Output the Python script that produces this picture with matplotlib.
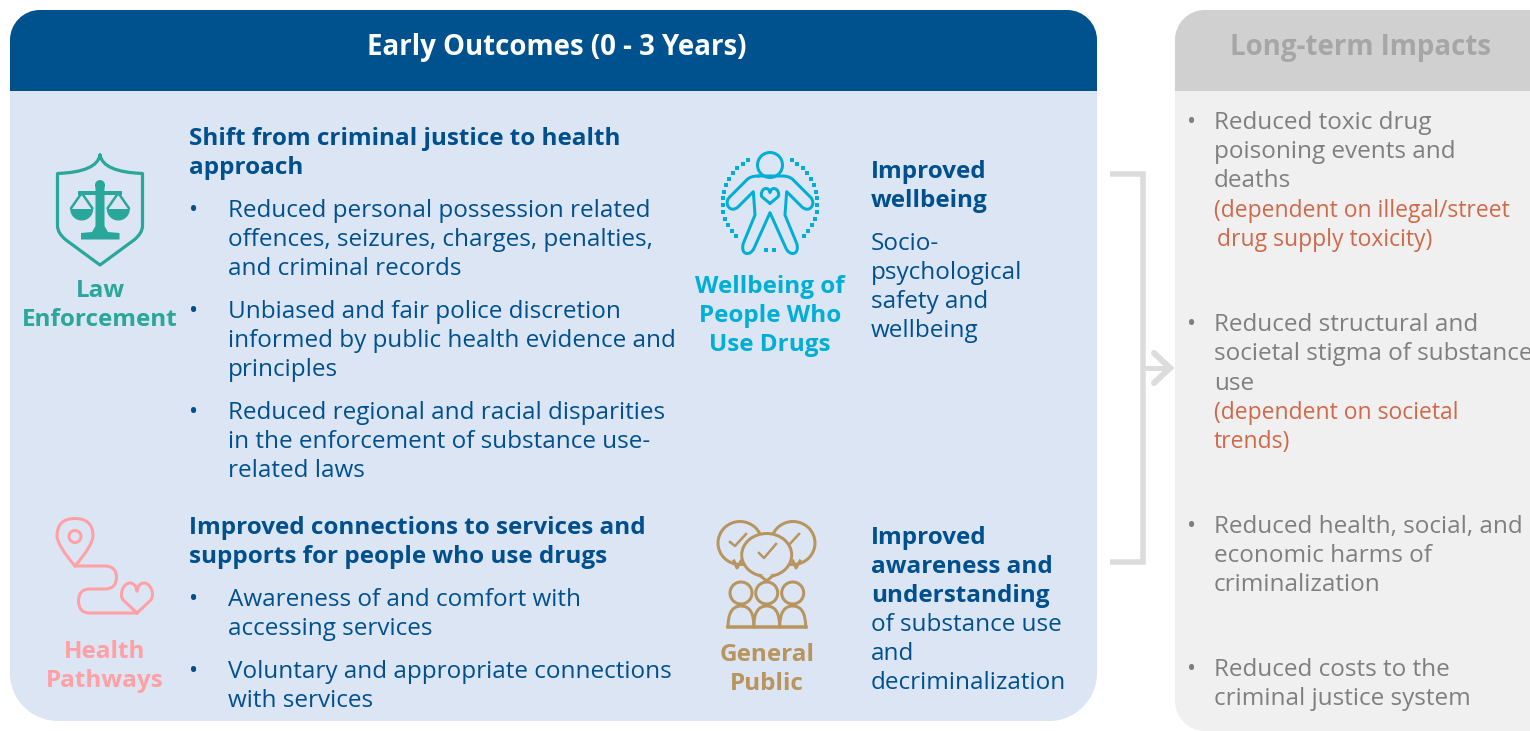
import numpy as np
import matplotlib
matplotlib.use("Agg")
import matplotlib.pyplot as plt
from matplotlib.path import Path
from matplotlib.patches import PathPatch, Circle, Ellipse, Polygon

plt.rcParams['font.family'] = ['Open Sans', 'DejaVu Sans']

NAVY = '#00508f'; HEADER = '#00528f'; PANEL = '#dbe5f3'
TEAL = '#2aa79b'; CYAN = '#00aed6'; PINK = '#ffa0a5'; TAN = '#b8955f'
GREY = '#7f7f7f'; ORANGE = '#d0694a'; LINE = '#dcdcdc'
FS = 17.5

early_title = 'Early Outcomes (0 - 3 Years)'
late_title = 'Long-term Impacts'

left_heads = [(136, 'Shift from criminal justice to health'), (165, 'approach'),
              (525, 'Improved connections to services and'), (554, 'supports for people who use drugs')]
left_lines = [(208, 'Reduced personal possession related'), (237, 'offences, seizures, charges, penalties,'),
              (266, 'and criminal records'), (309, 'Unbiased and fair police discretion'),
              (338, 'informed by public health evidence and'), (367, 'principles'),
              (410, 'Reduced regional and racial disparities'), (439, 'in the enforcement of substance use-'),
              (468, 'related laws'), (597, 'Awareness of and comfort with'),
              (626, 'accessing services'), (669, 'Voluntary and appropriate connections'),
              (698, 'with services')]
left_bullets = [208, 309, 410, 597, 669]

mid_heads = [(169, 'Improved'), (198, 'wellbeing'), (535, 'Improved'),
             (564, 'awareness and'), (593, 'understanding')]
mid_lines = [(241, 'Socio-'), (270, 'psychological'), (299, 'safety and'), (328, 'wellbeing'),
             (622, 'of substance use'), (651, 'and'), (680, 'decriminalization')]

labels = [(100, 288, 'Law', TEAL), (100, 317, 'Enforcement', TEAL),
          (770, 284, 'Wellbeing of', CYAN), (770, 313, 'People Who', CYAN), (770, 342, 'Use Drugs', CYAN),
          (105, 649, 'Health', PINK), (105, 678, 'Pathways', PINK),
          (767, 652, 'General', TAN), (767, 681, 'Public', TAN)]

right_lines = [(120, 'Reduced toxic drug'), (149, 'poisoning events and'), (178, 'deaths'),
               (322, 'Reduced structural and'), (351, 'societal stigma of substance'), (381, 'use'),
               (524, 'Reduced health, social, and'), (553, 'economic harms of'), (582, 'criminalization'),
               (667, 'Reduced costs to the'), (696, 'criminal justice system')]
right_bullets = [120, 322, 524, 667]
right_notes = [(1214, 208, '(dependent on illegal/street'), (1217, 237, 'drug supply toxicity)'),
               (1214, 410, '(dependent on societal'), (1214, 439, 'trends)')]

fig = plt.figure(figsize=(15.30, 7.31), dpi=100, facecolor='white')
ax = fig.add_axes([0, 0, 1, 1])
ax.set_xlim(0, 1530); ax.set_ylim(731, 0); ax.axis('off')


def rrect(x0, y0, x1, y1, rt, rb):
    k = 0.5523
    v = [(x0 + rt, y0), (x1 - rt, y0), (x1 - rt + k * rt, y0), (x1, y0 + rt - k * rt), (x1, y0 + rt),
         (x1, y1 - rb), (x1, y1 - rb + k * rb), (x1 - rb + k * rb, y1), (x1 - rb, y1),
         (x0 + rb, y1), (x0 + rb - k * rb, y1), (x0, y1 - rb + k * rb), (x0, y1 - rb),
         (x0, y0 + rt), (x0, y0 + rt - k * rt), (x0 + rt - k * rt, y0), (x0 + rt, y0), (x0 + rt, y0)]
    c = [Path.MOVETO, Path.LINETO, Path.CURVE4, Path.CURVE4, Path.CURVE4, Path.LINETO,
         Path.CURVE4, Path.CURVE4, Path.CURVE4, Path.LINETO, Path.CURVE4, Path.CURVE4, Path.CURVE4,
         Path.LINETO, Path.CURVE4, Path.CURVE4, Path.CURVE4, Path.CLOSEPOLY]
    return Path(v, c)


def panel(x0, x1, y1, rt, rb, body, head):
    p = PathPatch(rrect(x0, 10, x1, y1, rt, rb), fc=body, ec='none', zorder=1)
    ax.add_patch(p)
    h = ax.fill([x0, x1, x1, x0], [10, 10, 91, 91], color=head, lw=0, zorder=2)[0]
    h.set_clip_path(p)


panel(10, 1097, 721, 30, 48, PANEL, HEADER)
panel(1175, 1570, 731, 30, 30, '#f0f0f0', '#d0d0d0')


def T(x, y, s, color, bold=False, ha='left', size=FS):
    ax.text(x, y + 8.6, s, color=color, fontsize=size, ha=ha, va='baseline',
            fontweight='bold' if bold else 'normal', zorder=5)


T(557, 46.5, early_title, 'white', True, 'center', 19.9)
T(1361, 46.5, late_title, '#a6a6a6', True, 'center', 19.9)
for y, s in left_heads:
    T(189, y, s, NAVY, True)
for y, s in left_lines:
    T(228, y, s, NAVY)
for y in left_bullets:
    T(189, y, '•', NAVY)
for y, s in mid_heads:
    T(871, y, s, NAVY, True)
for y, s in mid_lines:
    T(871, y, s, NAVY)
for x, y, s, c in labels:
    T(x, y, s, c, True, 'center')
for y, s in right_lines:
    T(1214, y, s, GREY)
for y in right_bullets:
    T(1187, y, '•', GREY)
for x, y, s in right_notes:
    T(x, y, s, ORANGE, size=16.45)

# connector
px = 0.72
ax.plot([1110, 1143, 1143, 1110], [174, 174, 562, 562], color=LINE, lw=5.5 * px,
        solid_joinstyle='miter', solid_capstyle='butt', zorder=3)
ax.plot([1143, 1170], [368, 368], color=LINE, lw=5 * px, solid_capstyle='butt', zorder=3)
ax.plot([1154, 1170, 1154], [353, 368, 383], color=LINE, lw=6 * px,
        solid_capstyle='round', solid_joinstyle='miter', zorder=3)


def stroke(verts, codes=None, color=TEAL, lw=3, fc='none', z=4):
    if codes is None:
        codes = [Path.MOVETO] + [Path.LINETO] * (len(verts) - 1)
    ax.add_patch(PathPatch(Path(verts, codes), fc=fc, ec=color, lw=lw * px, zorder=z,
                           joinstyle='round', capstyle='round'))


M, L, C3, C4 = Path.MOVETO, Path.LINETO, Path.CURVE3, Path.CURVE4


def heart(cx, cy, w, h, color, lw=3):
    v = [(cx, cy + h), (cx - w * .85, cy + h * .15),
         (cx - w * 1.15, cy - h * .2), (cx - w * .85, cy - h), (cx - w * .45, cy - h),
         (cx - w * .2, cy - h), (cx - w * .05, cy - h * .8), (cx, cy - h * .45),
         (cx + w * .05, cy - h * .8), (cx + w * .2, cy - h), (cx + w * .45, cy - h),
         (cx + w * .85, cy - h), (cx + w * 1.15, cy - h * .2), (cx + w * .85, cy + h * .15),
         (cx, cy + h)]
    c = [M, L] + [C4] * 12 + [L]
    stroke(v, c, color, lw)


# Law Enforcement icon
stroke([(100, 155), (97, 172), (57.5, 173.5), (57.5, 226), (57.5, 233), (66, 240), (100, 265),
        (134, 240), (142.5, 233), (142.5, 226), (142.5, 173.5), (103, 172), (100, 155)],
       [M, C3, C3, L, C3, C3, L, L, C3, C3, L, C3, C3], TEAL, 3.2)
ax.add_patch(Circle((100, 185), 5, fc=TEAL, ec='none', zorder=4))
ax.add_patch(Polygon([(95.5, 186), (104.5, 186), (104.5, 226), (108, 232), (119.5, 233), (119.5, 239.5),
                      (81, 239.5), (81, 233), (92, 232), (95.5, 226)], fc=TEAL, ec='none', zorder=4))
ax.plot([80, 120], [192.5, 192.5], color=TEAL, lw=4 * px, zorder=4)
for cx in (81.7, 118.3):
    th = np.linspace(0, np.pi, 40)
    ax.fill(cx + 11.5 * np.cos(th), 209 + 11.5 * np.sin(th), color=TEAL, lw=0, zorder=4)
    ax.plot([cx - 10.5, cx, cx + 10.5], [208, 193, 208], color=TEAL, lw=2.5 * px, zorder=4)

# Wellbeing icon
ox, oy = 690, 140
Z = lambda x, y: (ox + x / 3, oy + y / 3)
ax.add_patch(Circle(Z(240, 75), 12.5, fc='none', ec=CYAN, lw=3 * px, zorder=4))
body = [(205, 108), (180, 108), (170, 120),
        (118, 172), (100, 192), (122, 222), (145, 200), (190, 155),
        (195, 225), (160, 310), (150, 345), (180, 350), (192, 325), (240, 218),
        (288, 325), (300, 350), (330, 345), (320, 310), (285, 225),
        (290, 155), (335, 200), (358, 222), (380, 192), (362, 172), (310, 120),
        (300, 108), (275, 108), (205, 108)]
cb = [M, C3, C3, L, C4, C4, C4, L, L, L, C4, C4, C4, L, L, C4, C4, C4, L, L, L, C4, C4, C4, L, C3, C3, L]
stroke([Z(*p) for p in body], cb, CYAN, 3)
heart(*Z(240, 168), 9, 7.5, CYAN, 3)
dc = Z(240, 187)
for a0, a1 in [(-63, 45), (135, 243)]:
    a = np.radians(np.linspace(a0, a1, 14))
    ax.scatter(dc[0] + 47.5 * np.cos(a), dc[1] + 47.5 * np.sin(a), s=6, marker='s',
               color=CYAN, lw=0, zorder=4)
ax.scatter([dc[0] - 4, dc[0] + 4], [250, 250], s=6, marker='s', color=CYAN, lw=0, zorder=4)

# Health Pathways icon
stroke([(75, 566), (57, 545), (57, 536), (57, 518.5), (75, 518.5), (93, 518.5), (93, 536), (93, 545), (75, 566)],
       [M, C3, C3, C3, C3, C3, C3, C3, C3], PINK, 3)
ax.add_patch(Circle((75, 536.5), 6, fc='none', ec=PINK, lw=3 * px, zorder=4))
stroke([(75, 566), (105, 566), (116.5, 566), (116.5, 577.5), (116.5, 589), (105, 589), (90, 589),
        (78.5, 589), (78.5, 601), (78.5, 613), (90, 613), (137, 613)],
       [M, L, C3, C3, C3, C3, L, C3, C3, C3, C3, L], PINK, 3)
heart(137, 598, 16, 15, PINK, 3)

# General Public icon
for cx, cy, tx in [(740, 543, 737), (793, 543, 796)]:
    ax.add_patch(Ellipse((cx, cy), 44, 43, fc='none', ec=TAN, lw=3 * px, zorder=4))
    ax.plot([tx - 3, tx, tx + 4], [561, 568, 561], color=TAN, lw=3 * px, zorder=4)
for (a, b, c2) in [(730, 735, 746), (783, 788, 799)]:
    ax.plot([a, b, c2], [542, 546, 534], color=TAN, lw=2.5 * px, zorder=4)
ax.add_patch(Ellipse((766.7, 555), 50, 43, fc=PANEL, ec=TAN, lw=3 * px, zorder=4.2))
ax.fill([760, 766.7, 773], [575, 581, 575], color=PANEL, lw=0, zorder=4.3)
ax.plot([760, 766.7, 773], [575.5, 581, 575.5], color=TAN, lw=3 * px, zorder=4.3)
ax.plot([759, 764, 776], [553, 558, 544], color=TAN, lw=2.5 * px, zorder=4.4)
for cx in (741, 766.7, 792.7):
    ax.add_patch(Circle((cx, 593), 11, fc='none', ec=TAN, lw=3 * px, zorder=4))
    stroke([(cx - 13, 627), (cx - 13, 606), (cx, 606), (cx + 13, 606), (cx + 13, 627)],
           [M, C3, C3, C3, C3], TAN, 3)
ax.plot([728, 806], [627, 627], color=TAN, lw=3.5 * px, zorder=4)

fig.savefig('out.png', dpi=100, facecolor='white')
